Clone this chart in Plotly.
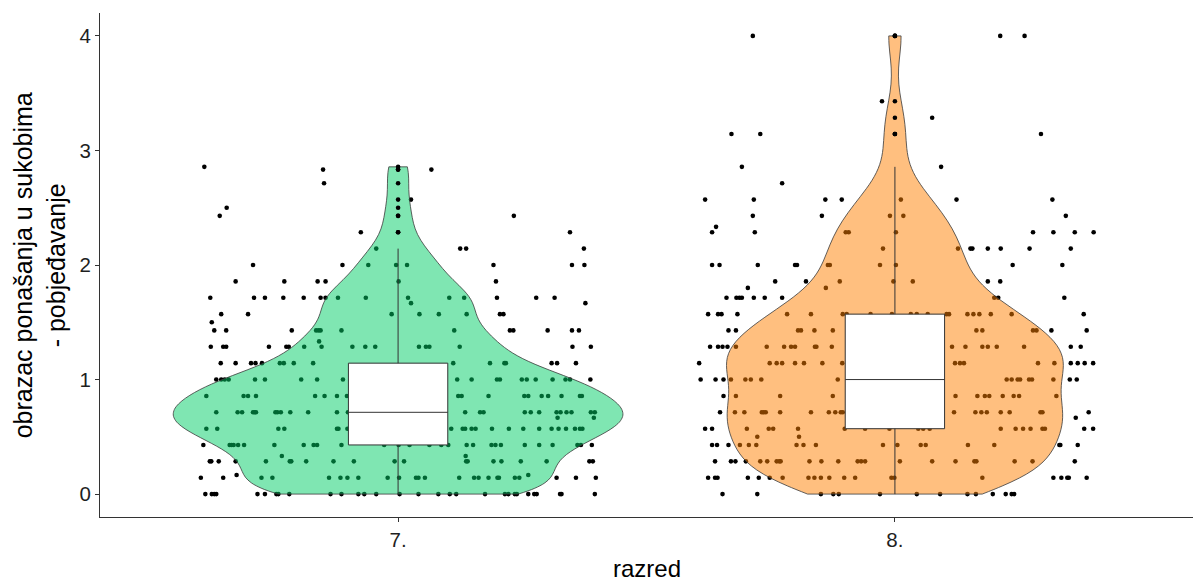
import numpy as np
import plotly.graph_objects as go

# Grade labels on the x axis and their numeric positions
categories = ["7.", "8."]
positions = [1, 2]

# Each row: (score, horizontal jitter offsets of the students with that score)
grade7_rows = [
    (0.0, [-0.388, -0.375, -0.370, -0.366, -0.283, -0.268, -0.245, -0.241, -0.219, -0.136,
           -0.114, -0.080, -0.068, -0.044, 0.003, 0.041, 0.081, 0.104, 0.117, 0.175,
           0.215, 0.222, 0.235, 0.239, 0.262, 0.274, 0.279, 0.326, 0.329, 0.396]),
    (0.143, [-0.397, -0.352, -0.275, -0.253, -0.139, -0.116, -0.102, -0.080, -0.021, 0.002,
             0.036, 0.041, 0.054, 0.123, 0.153, 0.162, 0.182, 0.200, 0.203, 0.235,
             0.244, 0.319, 0.358, 0.398]),
    (0.167, [-0.325, 0.262]),
    (0.286, [-0.379, -0.376, -0.361, -0.327, -0.266, -0.218, -0.215, -0.185, -0.130, -0.089,
             -0.007, 0.012, 0.137, 0.140, 0.192, 0.208, 0.247, 0.299, 0.385, 0.392]),
    (0.333, [-0.234, 0.136]),
    (0.429, [-0.392, -0.339, -0.335, -0.331, -0.322, -0.310, -0.249, -0.190, -0.170, -0.163,
             -0.114, -0.028, 0.001, 0.023, 0.063, 0.087, 0.101, 0.138, 0.151, 0.188,
             0.196, 0.207, 0.255, 0.284, 0.311, 0.361, 0.368, 0.390]),
    (0.571, [-0.386, -0.364, -0.241, -0.229, -0.123, -0.120, -0.102, 0.107, 0.130, 0.135,
             0.148, 0.156, 0.189, 0.223, 0.252, 0.284, 0.309, 0.323, 0.338, 0.356,
             0.366, 0.371,
             -0.095, -0.081, -0.066, -0.052, -0.037, -0.021, -0.008, 0.006, 0.019, 0.034,
             0.049, 0.067, 0.088]),
    (0.667, [0.321, 0.394]),
    (0.714, [-0.366, -0.323, -0.314, -0.292, -0.289, -0.286, -0.247, -0.243, -0.236, -0.217,
             -0.181, -0.123, -0.101, 0.135, 0.165, 0.172, 0.255, 0.267, 0.284, 0.319,
             0.327, 0.339, 0.349, 0.388, 0.396,
             -0.092, -0.078, -0.063, -0.049, -0.035, -0.022, -0.009, 0.004, 0.017, 0.031,
             0.045, 0.058, 0.072, 0.091]),
    (0.857, [-0.386, -0.311, -0.302, -0.286, -0.167, -0.148, -0.123, -0.103, 0.121, 0.128,
             0.182, 0.254, 0.262, 0.289, 0.302, 0.329, 0.366, 0.370,
             -0.093, -0.079, -0.064, -0.050, -0.036, -0.022, -0.008, 0.006, 0.020, 0.034,
             0.048, 0.062, 0.076, 0.090]),
    (1.0, [-0.366, -0.356, -0.349, -0.341, -0.288, -0.268, -0.195, -0.163, -0.111, 0.119,
           0.148, 0.199, 0.205, 0.249, 0.259, 0.277, 0.311, 0.337, 0.346, 0.387,
           -0.095, -0.080, -0.065, -0.050, -0.035, -0.020, -0.005, 0.010, 0.025, 0.040,
           0.055, 0.070, 0.088]),
    (1.143, [-0.357, -0.327, -0.296, -0.287, -0.274, -0.238, -0.230, -0.210, -0.171, 0.111,
             0.185, 0.214, 0.217, 0.309, 0.320, 0.358]),
    (1.286, [-0.377, -0.352, -0.346, -0.260, -0.225, -0.220, -0.189, -0.154, -0.092, -0.066,
             -0.046, 0.042, 0.056, 0.063, 0.124, 0.351, 0.388]),
    (1.333, [-0.159]),
    (1.429, [-0.370, -0.346, -0.214, -0.165, -0.160, -0.156, -0.114, 0.113, 0.225, 0.232,
             0.301, 0.350, 0.364]),
    (1.5, [-0.375]),
    (1.571, [-0.356, -0.302, -0.013, 0.043, 0.082, 0.138, 0.205, 0.212]),
    (1.667, [0.026, 0.377]),
    (1.714, [-0.378, -0.290, -0.268, -0.231, -0.190, -0.156, -0.146, -0.121, -0.065, 0.020,
             0.103, 0.133, 0.199, 0.278, 0.315]),
    (1.857, [-0.327, -0.229, -0.162, -0.146, 0.001, 0.197]),
    (2.0, [-0.292, -0.112, -0.060, -0.004, 0.018, 0.192, 0.350, 0.375]),
    (2.143, [-0.044, 0.125, 0.137, 0.374]),
    (2.286, [-0.075, 0.346]),
    (2.429, [-0.359, 0.233]),
    (2.5, [-0.345]),
    (2.571, [0.026]),
    (2.714, [-0.149]),
    (2.833, [-0.151, 0.067]),
    (2.857, [-0.390]),
]

grade8_rows = [
    (0.0, [-0.347, -0.277, -0.149, -0.124, -0.113, -0.030, 0.044, 0.091, 0.146, 0.163,
           0.197, 0.223, 0.235, 0.240]),
    (0.143, [-0.376, -0.362, -0.357, -0.296, -0.274, -0.252, -0.226, -0.174, -0.162, -0.149,
             -0.132, -0.102, -0.080, -0.007, -0.001, 0.176, 0.319, 0.335, 0.347, 0.350,
             0.386]),
    (0.286, [-0.362, -0.330, -0.321, -0.300, -0.271, -0.257, -0.238, -0.233, -0.230, -0.172,
             -0.148, -0.114, -0.075, -0.068, -0.060, 0.010, 0.075, 0.122, 0.160, 0.164,
             0.241, 0.277, 0.362]),
    (0.429, [-0.368, -0.358, -0.335, -0.312, -0.294, -0.279, -0.198, -0.184, -0.159, -0.024,
             0.005, 0.052, 0.062, 0.147, 0.200, 0.331, 0.333, 0.368]),
    (0.5, [-0.277, -0.193]),
    (0.571, [-0.382, -0.368, -0.298, -0.254, -0.245, -0.195, -0.101, -0.060, -0.011, 0.047,
             0.057, 0.070, 0.213, 0.243, 0.258, 0.273, 0.297, 0.302, 0.381, 0.399]),
    (0.667, [0.364]),
    (0.714, [-0.352, -0.322, -0.303, -0.268, -0.264, -0.260, -0.231, -0.169, -0.133, -0.120,
             -0.109, -0.105, 0.119, 0.162, 0.174, 0.185, 0.213, 0.231, 0.293, 0.297,
             0.390, -0.085, -0.060, -0.030, 0.000, 0.025, 0.055, 0.085]),
    (0.857, [-0.345, -0.320, -0.231, -0.125, 0.122, 0.166, 0.181, 0.190, 0.217, 0.239,
             0.250, 0.325, -0.070, -0.020, 0.030, 0.075]),
    (1.0, [-0.391, -0.361, -0.345, -0.330, -0.301, -0.290, -0.269, -0.115, 0.225, 0.235,
           0.247, 0.252, 0.270, 0.276, 0.319, 0.352, 0.366,
           -0.090, -0.055, -0.020, 0.015, 0.050, 0.085]),
    (1.143, [-0.394, -0.252, -0.238, -0.227, -0.201, -0.183, -0.146, -0.106, 0.121, 0.131,
             0.139, 0.288, 0.321, 0.354, 0.368, 0.382, 0.399,
             -0.080, -0.045, -0.010, 0.025, 0.060, 0.090]),
    (1.286, [-0.372, -0.356, -0.347, -0.337, -0.320, -0.258, -0.223, -0.209, -0.201, -0.161,
             -0.158, -0.127, 0.115, 0.142, 0.176, 0.187, 0.205, 0.260, 0.354, 0.374,
             -0.090, -0.060, -0.030, 0.000, 0.030, 0.060, 0.090]),
    (1.429, [-0.335, -0.320, -0.195, -0.189, -0.162, -0.125, 0.164, 0.176, 0.278, 0.285,
             0.315, 0.386, -0.075, -0.025, 0.025, 0.070]),
    (1.571, [-0.376, -0.356, -0.349, -0.317, -0.217, -0.169, -0.105, -0.097, -0.049, -0.006,
             0.032, 0.044, 0.066, 0.104, 0.109, 0.146, 0.158, 0.170, 0.193, 0.235,
             0.380]),
    (1.714, [-0.339, -0.319, -0.313, -0.308, -0.284, -0.262, -0.227, 0.200, 0.208, 0.341]),
    (1.8, [-0.296, -0.139]),
    (1.857, [-0.241, -0.179, -0.111, -0.003, 0.036, 0.187, 0.212]),
    (2.0, [-0.368, -0.353, -0.276, -0.201, -0.197, -0.135, -0.131, -0.030, 0.002, 0.237,
           0.337]),
    (2.143, [-0.024, 0.127, 0.152, 0.156, 0.187, 0.213, 0.271, 0.354]),
    (2.286, [-0.368, -0.282, -0.099, -0.093, 0.002, 0.278, 0.319, 0.362, 0.400]),
    (2.333, [-0.360]),
    (2.429, [-0.286, -0.147, -0.010, 0.017, 0.344]),
    (2.571, [-0.382, -0.284, -0.140, -0.107, 0.012, 0.124, 0.317]),
    (2.714, [-0.227]),
    (2.857, [-0.308, 0.093]),
    (3.143, [-0.329, -0.271, 0.294]),
    (3.286, [0.075]),
    (3.429, [-0.026]),
    (4.0, [-0.286, 0.212, 0.261]),
]

y_ticks = [0, 1, 2, 3, 4]
fill_colors = ["rgba(0,205,102,0.5)", "rgba(255,127,0,0.5)"]
violin_widths = [0.905, 0.678]
FONT = "Liberation Sans, Arial, sans-serif"


def expand(rows):
    scores, offsets = [], []
    for score, jitter in rows:
        for d in jitter:
            scores.append(score)
            offsets.append(d)
    return np.array(scores), np.array(offsets)


def bw_nrd0(v):
    q1, q3 = np.percentile(v, [25, 75])
    spread = min(np.std(v, ddof=1), (q3 - q1) / 1.34)
    return 0.9 * spread * len(v) ** -0.2


groups = [expand(grade7_rows), expand(grade8_rows)]
bandwidths = [bw_nrd0(s) for s, _ in groups]

fig = go.Figure()

# jittered students, underneath the translucent violins
for (scores, offsets), pos in zip(groups, positions):
    fig.add_trace(go.Scatter(
        x=pos + offsets, y=scores, mode="markers",
        marker=dict(color="black", size=4.6, line=dict(width=0)),
        showlegend=False, hoverinfo="skip", xaxis="x", yaxis="y"))

for (scores, _), pos, bw, w, col in zip(groups, positions, bandwidths, violin_widths,
                                        fill_colors):
    fig.add_trace(go.Violin(
        x=[pos] * len(scores), y=scores, bandwidth=bw, width=w, scalemode="width",
        spanmode="hard", points=False, fillcolor=col,
        line=dict(color="#3a3a3a", width=0.8), box_visible=False, meanline_visible=False,
        showlegend=False, hoverinfo="skip", xaxis="x2", yaxis="y2"))

for (scores, _), pos in zip(groups, positions):
    fig.add_trace(go.Box(
        x=[pos] * len(scores), y=scores, width=0.2, whiskerwidth=0,
        boxpoints="outliers", jitter=0, pointpos=0, fillcolor="white",
        line=dict(color="#333333", width=1),
        marker=dict(color="black", size=4.6, line=dict(width=0)),
        showlegend=False, hoverinfo="skip", xaxis="x2", yaxis="y2"))

x_range = [0.4, 2.6]
y_range = [-0.2, 4.2]
axis_font = dict(family=FONT, size=20.5, color="#1f1f1f")

fig.update_layout(
    width=1196, height=582,
    margin=dict(l=100, r=3, t=13, b=65),
    paper_bgcolor="white", plot_bgcolor="white",
    violinmode="overlay", boxmode="overlay",
    xaxis=dict(range=x_range, tickvals=positions, ticktext=categories,
               showgrid=False, zeroline=False, showline=True, linecolor="#333333",
               linewidth=1, ticks="outside", ticklen=4, tickcolor="#333333",
               tickfont=axis_font),
    yaxis=dict(range=y_range, tickvals=y_ticks, showgrid=False, zeroline=False,
               showline=True, linecolor="#333333", linewidth=1, ticks="outside",
               ticklen=4, tickcolor="#333333", tickfont=axis_font),
    xaxis2=dict(range=x_range, overlaying="x", visible=False),
    yaxis2=dict(range=y_range, overlaying="y", visible=False),
    annotations=[
        dict(text="razred", xref="paper", yref="paper", x=0.5, y=-0.103,
             xanchor="center", yanchor="middle", showarrow=False,
             font=dict(family=FONT, size=24, color="black")),
        dict(text="obrazac ponašanja u sukobima<br>- pobjeđavanje", xref="paper",
             yref="paper", x=-0.0555, y=0.5, xanchor="center", yanchor="middle",
             textangle=-90, showarrow=False,
             font=dict(family=FONT, size=25, color="black")),
    ],
)

fig.write_html("out.html")
